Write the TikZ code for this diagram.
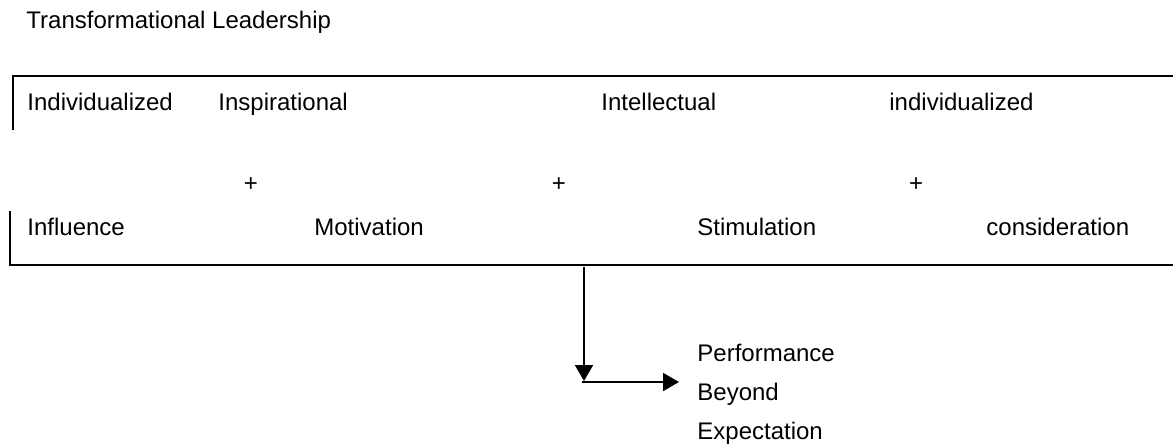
\documentclass[tikz,border=0pt]{standalone}
\usepackage{fontspec}
\setmainfont{Liberation Sans}
\usetikzlibrary{arrows.meta}
\begin{document}
\begin{tikzpicture}[x=0.5pt, y=-0.5pt, font=\fontsize{12}{14}\selectfont,
  lbl/.style={anchor=base west, inner sep=0pt},
  plus/.style={anchor=center, inner sep=0pt},
  frame/.style={line width=1pt},
  flow/.style={line width=1pt, -{Triangle[width=9pt,length=8pt]}}]
\useasboundingbox (0,0) rectangle (1173,446);

\node[lbl] (title) at (26,28) {Transformational Leadership};

% upper and lower edge of the box
\draw[frame] (13,130) -- (13,76) -- (1173,76);
\draw[frame] (10,211) -- (10,265) -- (1173,265);

\node[lbl] (idealized) at (27,110) {Individualized};
\node[lbl] (inspire) at (218,110) {Inspirational};
\node[lbl] (intellect) at (601,110) {Intellectual};
\node[lbl] (individ) at (889,110) {individualized};

\node[plus] (plusA) at (251,185) {+};
\node[plus] (plusB) at (559,185) {+};
\node[plus] (plusC) at (916,185) {+};

\node[lbl] (influence) at (27,235) {Influence};
\node[lbl] (motivation) at (314,235) {Motivation};
\node[lbl] (stimulation) at (697,235) {Stimulation};
\node[lbl] (consider) at (986,235) {consideration};

\node[lbl] (perf) at (697,361) {Performance};
\node[lbl] (beyond) at (697,400) {Beyond};
\node[lbl] (expect) at (697,439) {Expectation};

\coordinate (drop) at (584,267);
\coordinate (corner) at (584,381);
\coordinate (bend) at (582,382);
\coordinate (goal) at (679,382);
\draw[flow] (drop) -- (corner);
\draw[flow] (bend) -- (goal);
\end{tikzpicture}
\end{document}
